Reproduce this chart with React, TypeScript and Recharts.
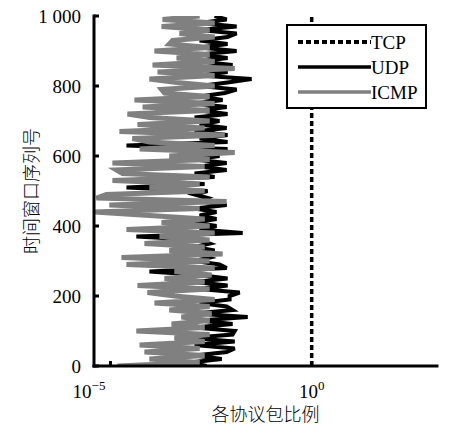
import React from "react";
import { LineChart, Line, XAxis, YAxis, Legend } from "recharts";

// time window index (every 10th window)
const windowIdx = [
  0, 10, 20, 30, 40, 50, 60, 70, 80, 90,
  100, 110, 120, 130, 140, 150, 160, 170, 180, 190,
  200, 210, 220, 230, 240, 250, 260, 270, 280, 290,
  300, 310, 320, 330, 340, 350, 360, 370, 380, 390,
  400, 410, 420, 430, 440, 450, 460, 470, 480, 490,
  500, 510, 520, 530, 540, 550, 560, 570, 580, 590,
  600, 610, 620, 630, 640, 650, 660, 670, 680, 690,
  700, 710, 720, 730, 740, 750, 760, 770, 780, 790,
  800, 810, 820, 830, 840, 850, 860, 870, 880, 890,
  900, 910, 920, 930, 940, 950, 960, 970, 980, 990,
  1000,
];

const icmpShare = [
  1.49e-5, 1.64e-3, 9.3e-5, 2.18e-3, 7.0e-5, 1.64e-3, 5.3e-5, 2.18e-3, 3.9e-4, 2.9e-3,
  4.4e-5, 2.18e-3, 3.3e-4, 2.9e-3, 5.8e-4, 3.25e-3, 2.9e-4, 2.9e-3, 1.24e-4, 3.86e-3,
  3.9e-4, 8.3e-5, 2.9e-3, 4.7e-5, 2.18e-3, 2.2e-4, 3.25e-3, 3.9e-4, 3.86e-3, 2.5e-5,
  2.9e-3, 1.88e-5, 6.1e-3, 2.9e-4, 2.18e-3, 7.0e-5, 2.9e-3, 1.66e-4, 3.86e-3, 2.5e-5,
  2.9e-3, 1.86e-4, 2.18e-3, 9.3e-5, 3.56e-6, 1.64e-3, 9.4e-6, 7.7e-3, 4.49e-6, 7.9e-6,
  2.18e-3, 9.3e-5, 1.64e-3, 1.12e-5, 2.9e-3, 1.99e-5, 1.41e-5, 2.18e-3, 1.12e-5, 2.9e-3,
  2.9e-4, 1.22e-2, 5.3e-5, 3.86e-3, 9.3e-5, 3.5e-5, 6.9e-3, 1.67e-5, 2.18e-3, 4.7e-5,
  2.9e-3, 9.3e-5, 2.65e-5, 2.9e-3, 6.3e-5, 3.86e-3, 3.95e-5, 2.9e-3, 2.2e-4, 1.86e-4,
  3.86e-3, 4.4e-4, 9.3e-5, 3.86e-3, 1.48e-4, 1.22e-2, 1.11e-4, 3.86e-3, 4.4e-4, 2.9e-3,
  1.24e-4, 2.9e-3, 2.9e-4, 3.5e-4, 3.86e-3, 5.2e-4, 2.9e-3, 1.86e-4, 3.86e-3, 1.97e-4,
  1.64e-3,
];

const udpShare = [
  2.44e-3, 9.2e-4, 5.8e-3, 1.23e-3, 7.7e-3, 1.22e-2, 1.23e-3, 1.22e-2, 9.2e-4, 1.08e-2,
  1.22e-2, 1.23e-3, 1.08e-2, 1.64e-3, 2.56e-2, 1.23e-3, 1.08e-2, 7.7e-3, 1.64e-3, 9.1e-3,
  9.1e-3, 1.62e-2, 1.64e-3, 8.1e-3, 1.23e-3, 8.1e-3, 1.64e-3, 9.3e-5, 7.7e-3, 5.1e-3,
  1.23e-3, 2.9e-3, 1.64e-3, 3.86e-3, 1.23e-3, 2.9e-3, 1.64e-3, 4.4e-5, 1.92e-2, 1.64e-3,
  4.3e-3, 1.23e-3, 4.3e-3, 1.64e-3, 4.3e-3, 1.23e-3, 7.7e-3, 1.64e-3, 2.59e-3, 1.23e-3,
  2.59e-3, 2.5e-5, 2.18e-3, 1.88e-5, 3.86e-3, 1.23e-3, 7.7e-3, 1.64e-3, 7.7e-3, 1.23e-3,
  5.1e-3, 1.64e-3, 8.1e-3, 2.5e-5, 8.1e-3, 1.64e-3, 8.1e-3, 1.23e-3, 7.7e-3, 1.64e-3,
  5.1e-3, 1.23e-3, 8.1e-3, 1.64e-3, 7.7e-3, 1.23e-3, 6.1e-3, 1.64e-3, 6.9e-3, 1.36e-2,
  1.64e-3, 8.1e-3, 3.2e-2, 1.64e-3, 8.1e-3, 1.64e-3, 1.08e-2, 1.64e-3, 8.1e-3, 1.64e-3,
  1.36e-2, 1.64e-3, 8.1e-3, 1.64e-3, 8.1e-3, 1.36e-2, 1.64e-3, 1.36e-2, 1.64e-3, 7.7e-3,
  3.86e-3,
];

const tcpIdx = [0, 250, 500, 750, 1000];
const tcpShare = [0.995, 0.995, 0.995, 0.995, 0.995];

const yTicks = [0, 200, 400, 600, 800, 1000];
const xTicks = [1e-5, 1];
const xTickLabels = { "0.00001": "\u22125", "1": "0" } as Record<string, string>;

const toRows = (idx: number[], vals: number[]) =>
  idx.map((w, i) => ({ idx: w, v: vals[i] }));

const udpRows = toRows(windowIdx, udpShare);
const icmpRows = toRows(windowIdx, icmpShare);
const tcpRows = toRows(tcpIdx, tcpShare);

const SERIF = "'Liberation Serif', 'Times New Roman', serif";
const CJK = "'Noto Sans CJK SC', sans-serif";
const GRAY = "#808080";
const frame = { stroke: "#000", strokeWidth: 3, strokeLinecap: "square" as const };

const LeftTick = ({ x, y, payload }: any) => (
  <g>
    <line x1={x} y1={y} x2={x + 5} y2={y} stroke="#000" strokeWidth={3} />
    <text x={x - 13} y={y} dy="0.35em" textAnchor="end" fontFamily={SERIF} fontSize={19} fill="#000">
      {payload.value === 1000 ? "1 000" : payload.value}
    </text>
  </g>
);

const RightTick = ({ x, y }: any) => (
  <line x1={x} y1={y} x2={x - 5} y2={y} stroke="#000" strokeWidth={3} />
);

const TopTick = ({ x, y }: any) => (
  <line x1={x} y1={y} x2={x} y2={y + 5} stroke="#000" strokeWidth={3} />
);

const BottomTick = ({ x, y, payload, index }: any) => {
  const exp = xTickLabels[String(payload.value)];
  const first = index === 0;
  return (
    <g>
      <line x1={x} y1={y} x2={x} y2={y - 5} stroke="#000" strokeWidth={3} />
      <text
        x={first ? x - 5 : x}
        y={y + 32}
        textAnchor={first ? "end" : "middle"}
        fontFamily={SERIF}
        fontSize={19}
        fill="#000"
      >
        10
        <tspan dy={-8} fontSize={13}>
          {exp}
        </tspan>
      </text>
    </g>
  );
};

const YLabel = ({ viewBox }: any) => {
  const cx = viewBox.x + 30;
  const cy = viewBox.y + viewBox.height / 2;
  return (
    <text
      x={cx}
      y={cy}
      transform={`rotate(-90 ${cx} ${cy})`}
      textAnchor="middle"
      dominantBaseline="central"
      fontFamily={CJK}
      fontWeight={300}
      fontSize={18}
      fill="#000"
    >
      时间窗口序列号
    </text>
  );
};

const legendItems = [
  { name: "TCP", color: "#000", width: 4, dash: "5 3" },
  { name: "UDP", color: "#000", width: 3.5, dash: undefined },
  { name: "ICMP", color: GRAY, width: 3.5, dash: undefined },
];

const renderLegend = () => (
  <svg width={141} height={85} style={{ display: "block" }}>
    <rect x={1} y={1} width={139} height={83} fill="#fff" stroke="#000" strokeWidth={2} />
    {legendItems.map((it, i) => (
      <g key={it.name}>
        <line
          x1={12}
          x2={85}
          y1={18 + i * 25}
          y2={18 + i * 25}
          stroke={it.color}
          strokeWidth={it.width}
          strokeDasharray={it.dash}
        />
        <text x={85} y={18 + i * 25} dy="0.35em" fontFamily={SERIF} fontSize={19} fill="#000">
          {it.name}
        </text>
      </g>
    ))}
  </svg>
);

const App: React.FC = () => {
  return (
    <div style={{ position: "absolute", left: 0, top: 0, background: "#fff" }}>
      <LineChart
        width={453}
        height={433}
        layout="vertical"
        margin={{ top: 16, right: 16, bottom: 0, left: 0 }}
      >
        <XAxis
          xAxisId="b"
          type="number"
          scale="log"
          domain={[3.9e-6, 1290]}
          allowDataOverflow
          ticks={xTicks}
          orientation="bottom"
          height={67}
          axisLine={frame}
          tickLine={false}
          tickSize={0}
          tickMargin={0}
          tick={(p: any) => <BottomTick {...p} />}
          label={{
            value: "各协议包比例",
            position: "insideBottom",
            offset: 12,
            fontFamily: CJK,
            fontWeight: 300,
            fontSize: 18,
            fill: "#000",
          }}
        />
        <XAxis
          xAxisId="t"
          type="number"
          scale="log"
          domain={[3.9e-6, 1290]}
          allowDataOverflow
          ticks={xTicks}
          orientation="top"
          height={0}
          axisLine={frame}
          tickLine={false}
          tickSize={0}
          tickMargin={0}
          tick={(p: any) => <TopTick {...p} />}
        />
        <YAxis
          yAxisId="l"
          type="number"
          dataKey="idx"
          domain={[0, 1000]}
          reversed
          allowDataOverflow
          ticks={yTicks}
          width={94}
          axisLine={frame}
          tickLine={false}
          tickSize={0}
          tickMargin={0}
          tick={(p: any) => <LeftTick {...p} />}
          label={(p: any) => <YLabel {...p} />}
        />
        <YAxis
          yAxisId="r"
          orientation="right"
          type="number"
          dataKey="idx"
          domain={[0, 1000]}
          reversed
          allowDataOverflow
          ticks={yTicks}
          width={0}
          axisLine={frame}
          tickLine={false}
          tickSize={0}
          tickMargin={0}
          tick={(p: any) => <RightTick {...p} />}
        />
        <Legend
          layout="vertical"
          align="center"
          verticalAlign="middle"
          content={renderLegend}
          wrapperStyle={{ position: "absolute", left: 286, top: 24, width: 141, height: 85 }}
        />
        <Line
          xAxisId="b"
          yAxisId="l"
          data={udpRows}
          dataKey="v"
          name="UDP"
          stroke="#000"
          strokeWidth={4}
          dot={false}
          isAnimationActive={false}
        />
        <Line
          xAxisId="b"
          yAxisId="l"
          data={icmpRows}
          dataKey="v"
          name="ICMP"
          stroke={GRAY}
          strokeWidth={5}
          dot={false}
          isAnimationActive={false}
        />
        <Line
          xAxisId="b"
          yAxisId="l"
          data={tcpRows}
          dataKey="v"
          name="TCP"
          stroke="#000"
          strokeWidth={3.5}
          strokeDasharray="5 3"
          dot={false}
          isAnimationActive={false}
        />
      </LineChart>
    </div>
  );
};

export default App;
